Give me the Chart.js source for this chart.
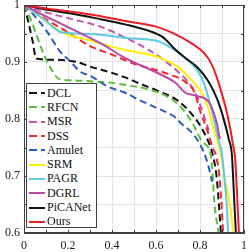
<!DOCTYPE html>
<html>
<head>
<meta charset="utf-8">
<script src="https://cdn.jsdelivr.net/npm/chart.js@4.4.0/dist/chart.umd.min.js"></script>
<style>
  html, body { margin: 0; padding: 0; background: #fff; }
  #wrap { position: relative; width: 249px; height: 252px; }
  #legend {
    position: absolute; left: 26px; top: 83px; width: 71px; height: 145px;
    box-sizing: border-box; border: 1px solid #404040; background: #fff;
    padding-top: 2px; font-family: "Liberation Serif", "Times New Roman", serif;
    font-size: 12px; color: #111;
  }
  .item { height: 14.3px; display: flex; align-items: center; white-space: nowrap; }
  .item svg { margin: 0 2px 0 2px; flex: none; }
</style>
</head>
<body>
<div id="wrap">
  <canvas id="chart" width="249" height="252"></canvas>
  <div id="legend"></div>
</div>
<script>
'use strict';

// Method names, in legend order.
var methods = ['DCL', 'RFCN', 'MSR', 'DSS', 'Amulet', 'SRM', 'PAGR', 'DGRL', 'PiCANet', 'Ours'];
var colors = ['#111111', '#5cbf3a', '#c256b4', '#ee2b2f', '#2b5bbd',
              '#fff000', '#5ecbe0', '#b84aa8', '#141414', '#ee1c24'];
var dashed = [true, true, true, true, true, false, false, false, false, false];

// [recall, precision] pairs.
var dcl = [[0, 1], [0.02, 0.97], [0.04, 0.935], [0.055, 0.906], [0.12, 0.904], [0.24, 0.9],
           [0.3, 0.892], [0.4, 0.881], [0.46, 0.873], [0.52, 0.863], [0.61, 0.849], [0.7, 0.832],
           [0.77, 0.805], [0.82, 0.775], [0.858, 0.737], [0.875, 0.7], [0.886, 0.65], [0.895, 0.6]];
var rfcn = [[0, 1], [0.03, 0.975], [0.05, 0.955], [0.087, 0.916], [0.12, 0.89], [0.16, 0.87],
            [0.2, 0.868], [0.35, 0.865], [0.46, 0.86], [0.6, 0.848], [0.67, 0.835], [0.72, 0.818],
            [0.77, 0.79], [0.81, 0.76], [0.849, 0.737], [0.858, 0.7], [0.865, 0.655], [0.885, 0.6]];
var msr = [[0, 1], [0.1, 0.987], [0.2, 0.977], [0.347, 0.962], [0.475, 0.94], [0.55, 0.925],
           [0.63, 0.905], [0.7, 0.883], [0.744, 0.866], [0.78, 0.845], [0.805, 0.82], [0.84, 0.78]];
var dss = [[0, 1], [0.1, 0.975], [0.2, 0.952], [0.3, 0.928], [0.4, 0.913], [0.5, 0.897],
           [0.6, 0.886], [0.67, 0.877], [0.73, 0.866], [0.776, 0.846], [0.8, 0.815], [0.836, 0.777],
           [0.858, 0.749], [0.872, 0.737], [0.888, 0.7], [0.895, 0.665], [0.9, 0.635], [0.905, 0.6]];
var amulet = [[0, 1], [0.05, 0.98], [0.1, 0.956], [0.169, 0.916], [0.2, 0.905], [0.26, 0.882],
              [0.3, 0.876], [0.38, 0.857], [0.46, 0.846], [0.52, 0.834], [0.6, 0.82], [0.69, 0.802],
              [0.712, 0.793], [0.772, 0.772], [0.817, 0.742], [0.84, 0.715], [0.855, 0.69]];
var srm = [[0, 1], [0.1, 0.972], [0.178, 0.951], [0.29, 0.939], [0.46, 0.921], [0.607, 0.909],
           [0.7, 0.891], [0.762, 0.868], [0.808, 0.846], [0.836, 0.821], [0.86, 0.785], [0.88, 0.76],
           [0.895, 0.737], [0.92, 0.68], [0.94, 0.64], [0.95, 0.6]];
var pagr = [[0, 1], [0.1, 0.972], [0.164, 0.953], [0.2, 0.951], [0.347, 0.948], [0.46, 0.942],
            [0.607, 0.937], [0.667, 0.925], [0.726, 0.909], [0.79, 0.884], [0.817, 0.864],
            [0.84, 0.835], [0.863, 0.8], [0.88, 0.77], [0.9, 0.737], [0.915, 0.68], [0.923, 0.64],
            [0.927, 0.6]];
var dgrl = [[0, 1], [0.1, 0.98], [0.196, 0.962], [0.347, 0.933], [0.46, 0.907], [0.6, 0.882],
            [0.69, 0.863], [0.73, 0.847], [0.79, 0.84], [0.84, 0.83], [0.863, 0.81], [0.878, 0.79],
            [0.89, 0.765]];
var picanet = [[0, 1], [0.1, 0.992], [0.2, 0.986], [0.324, 0.977], [0.46, 0.966], [0.6, 0.95],
               [0.63, 0.944], [0.69, 0.921], [0.73, 0.908], [0.79, 0.89], [0.84, 0.865], [0.88, 0.833],
               [0.909, 0.798], [0.932, 0.763], [0.945, 0.737], [0.954, 0.67], [0.963, 0.6]];
var ours = [[0, 1], [0.1, 0.994], [0.2, 0.989], [0.324, 0.982], [0.46, 0.972], [0.6, 0.962],
            [0.67, 0.952], [0.73, 0.94], [0.78, 0.928], [0.82, 0.915], [0.85, 0.898], [0.87, 0.88],
            [0.895, 0.85], [0.92, 0.815], [0.936, 0.786], [0.95, 0.755], [0.96, 0.73], [0.968, 0.67],
            [0.977, 0.6]];

var curves = [dcl, rfcn, msr, dss, amulet, srm, pagr, dgrl, picanet, ours];

var xTickLabels = ['0', '0.2', '0.4', '0.6', '0.8', '1'];
var yTickLabels = ['0.6', '0.7', '0.8', '0.9', '1'];

var DASH = [7, 4];
var FRAME = '#404040';
var FONT = { family: '"Liberation Serif", "Times New Roman", serif', size: 12 };

function labelFor(labels, value) {
  for (var i = 0; i < labels.length; i++) {
    if (Math.abs(parseFloat(labels[i]) - value) < 1e-6) return labels[i];
  }
  return '';
}

var datasets = methods.map(function(name, i) {
  return {
    label: name,
    data: curves[i].map(function(p) { return { x: p[0], y: p[1] }; }),
    borderColor: colors[i],
    borderWidth: 2,
    borderDash: dashed[i] ? DASH : [],
    pointRadius: 0,
    fill: false,
    cubicInterpolationMode: 'monotone',
    // Later methods on top, like the original plot.
    order: methods.length - i
  };
});

// Box around the axes plus the small inward ticks.
var framePlugin = {
  id: 'frame',
  afterDatasetsDraw: function(chart) {
    var a = chart.chartArea;
    var ctx = chart.ctx;
    var xs = chart.scales.x, ys = chart.scales.y;
    ctx.save();
    ctx.strokeStyle = FRAME;
    ctx.lineWidth = 1;
    ctx.strokeRect(Math.round(a.left) + 0.5, Math.round(a.top) + 0.5,
                   Math.round(a.right - a.left) - 1, Math.round(a.bottom - a.top) - 1);
    ctx.beginPath();
    xs.ticks.forEach(function(t) {
      var px = Math.round(xs.getPixelForValue(t.value)) + 0.5;
      ctx.moveTo(px, a.bottom); ctx.lineTo(px, a.bottom - 3);
      ctx.moveTo(px, a.top); ctx.lineTo(px, a.top + 3);
    });
    ys.ticks.forEach(function(t) {
      var py = Math.round(ys.getPixelForValue(t.value)) + 0.5;
      ctx.moveTo(a.left, py); ctx.lineTo(a.left + 3, py);
      ctx.moveTo(a.right, py); ctx.lineTo(a.right - 3, py);
    });
    ctx.stroke();
    ctx.restore();
  }
};

new Chart(document.getElementById('chart'), {
  type: 'line',
  data: { datasets: datasets },
  options: {
    responsive: false,
    devicePixelRatio: 1,
    animation: false,
    layout: { padding: { top: 5, right: 5, left: 0, bottom: 0 } },
    plugins: { legend: { display: false }, tooltip: { enabled: false } },
    scales: {
      x: {
        type: 'linear', min: 0, max: 1,
        ticks: {
          stepSize: 0.1, autoSkip: false, maxRotation: 0, padding: 6,
          color: '#222', font: FONT,
          callback: function(v) { return labelFor(xTickLabels, v); }
        },
        grid: { color: '#e4e4e4', drawTicks: false },
        border: { display: true, color: FRAME },
        afterFit: function(s) { s.height = 19; s.paddingLeft = 0; s.paddingRight = 0; }
      },
      y: {
        type: 'linear', min: 0.6, max: 1,
        ticks: {
          stepSize: 0.05, autoSkip: false, padding: 4,
          color: '#222', font: FONT,
          callback: function(v) { return labelFor(yTickLabels, v); }
        },
        grid: { color: '#e4e4e4', drawTicks: false },
        border: { display: true, color: FRAME },
        afterFit: function(s) { s.width = 24; s.paddingTop = 0; s.paddingBottom = 0; }
      }
    }
  },
  plugins: [framePlugin]
});

// Legend drawn as HTML, inside the plot like the original.
var legend = document.getElementById('legend');
methods.forEach(function(name, i) {
  var row = document.createElement('div');
  row.className = 'item';
  var dash = dashed[i] ? ' stroke-dasharray="8 4"' : '';
  row.innerHTML = '<svg width="16" height="4"><line x1="0" y1="2" x2="16" y2="2" stroke="' +
                  colors[i] + '" stroke-width="2"' + dash + '/></svg><span>' + name + '</span>';
  legend.appendChild(row);
});
</script>
</body>
</html>
